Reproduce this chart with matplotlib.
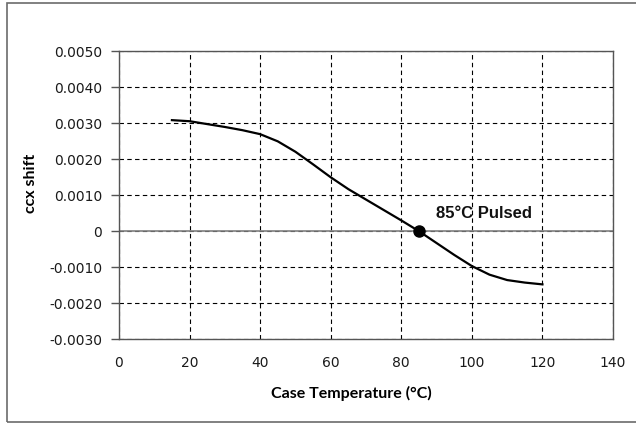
import matplotlib
matplotlib.use("Agg")
import matplotlib.pyplot as plt
from matplotlib.patches import Rectangle

# Frequency shift versus case temperature
temperature = [15, 20, 25, 30, 35, 40, 45, 50, 55, 60, 65, 70, 75, 80, 85,
               90, 95, 100, 105, 110, 115, 120]
ccx_shift = [0.00309, 0.00306, 0.00298, 0.00290, 0.00281, 0.00270, 0.00250,
             0.00221, 0.00186, 0.00150, 0.00117, 0.00088, 0.00059, 0.00030,
             0.0, -0.00033, -0.00066, -0.00097, -0.00121, -0.00136,
             -0.00143, -0.00148]
marker_x, marker_y = 85, 0.0
marker_label = "85°C Pulsed"

x_ticks = [0, 20, 40, 60, 80, 100, 120, 140]
y_ticks = [-0.003, -0.002, -0.001, 0.0, 0.001, 0.002, 0.003, 0.004, 0.005]
y_tick_labels = ["-0.0030", "-0.0020", "-0.0010", "0", "0.0010", "0.0020",
                 "0.0030", "0.0040", "0.0050"]

fig = plt.figure(figsize=(6.36, 4.23), dpi=100)
fig.patch.set_facecolor("white")

# outer chart frame
fig.add_artist(Rectangle((6.5 / 636, 1 - 422 / 423), 1.0, 419 / 423,
                         transform=fig.transFigure, fill=False,
                         edgecolor="#6b6b6b", linewidth=1.2))

ax = fig.add_axes([119 / 636, 1 - 339 / 423, (613 - 119) / 636, (339 - 51.5) / 423])
ax.set_xlim(0, 140)
ax.set_ylim(-0.003, 0.005)
ax.set_xticks(x_ticks)
ax.set_yticks(y_ticks)
ax.set_yticklabels(y_tick_labels)

ax.grid(True, color="black", linestyle=(0, (4, 3)), linewidth=0.8)
ax.set_axisbelow(True)
ax.axhline(0, color="#7f7f7f", linewidth=1.2, zorder=1.5)

for side in ["left", "right", "top", "bottom"]:
    ax.spines[side].set_color("#555555")
    ax.spines[side].set_linewidth(1.0)

ax.tick_params(axis="y", direction="out", length=6, width=1.0, color="#555555",
               labelsize=10, labelcolor="#1a1a1a", pad=6)
ax.tick_params(axis="x", length=0, labelsize=10, labelcolor="#1a1a1a", pad=12)

ax.plot(temperature, ccx_shift, color="black", linewidth=1.6, zorder=3)
ax.plot([marker_x], [marker_y], "o", color="black", markersize=8, zorder=4)
ax.text(marker_x + 4.8, marker_y + 0.0005, marker_label, fontsize=12,
        fontweight="bold", family="Liberation Sans", va="center", ha="left",
        color="#111111")

ax.set_xlabel("Case Temperature (°C)", family="Lato", fontweight="bold",
              fontsize=11.5, color="black")
ax.set_ylabel("ccx shift", family="Lato", fontweight="bold",
              fontsize=11.5, color="black")
ax.xaxis.set_label_coords(0.47, -0.163)
ax.yaxis.set_label_coords(-0.163, 0.54)

fig.savefig("out.png", dpi=100)
